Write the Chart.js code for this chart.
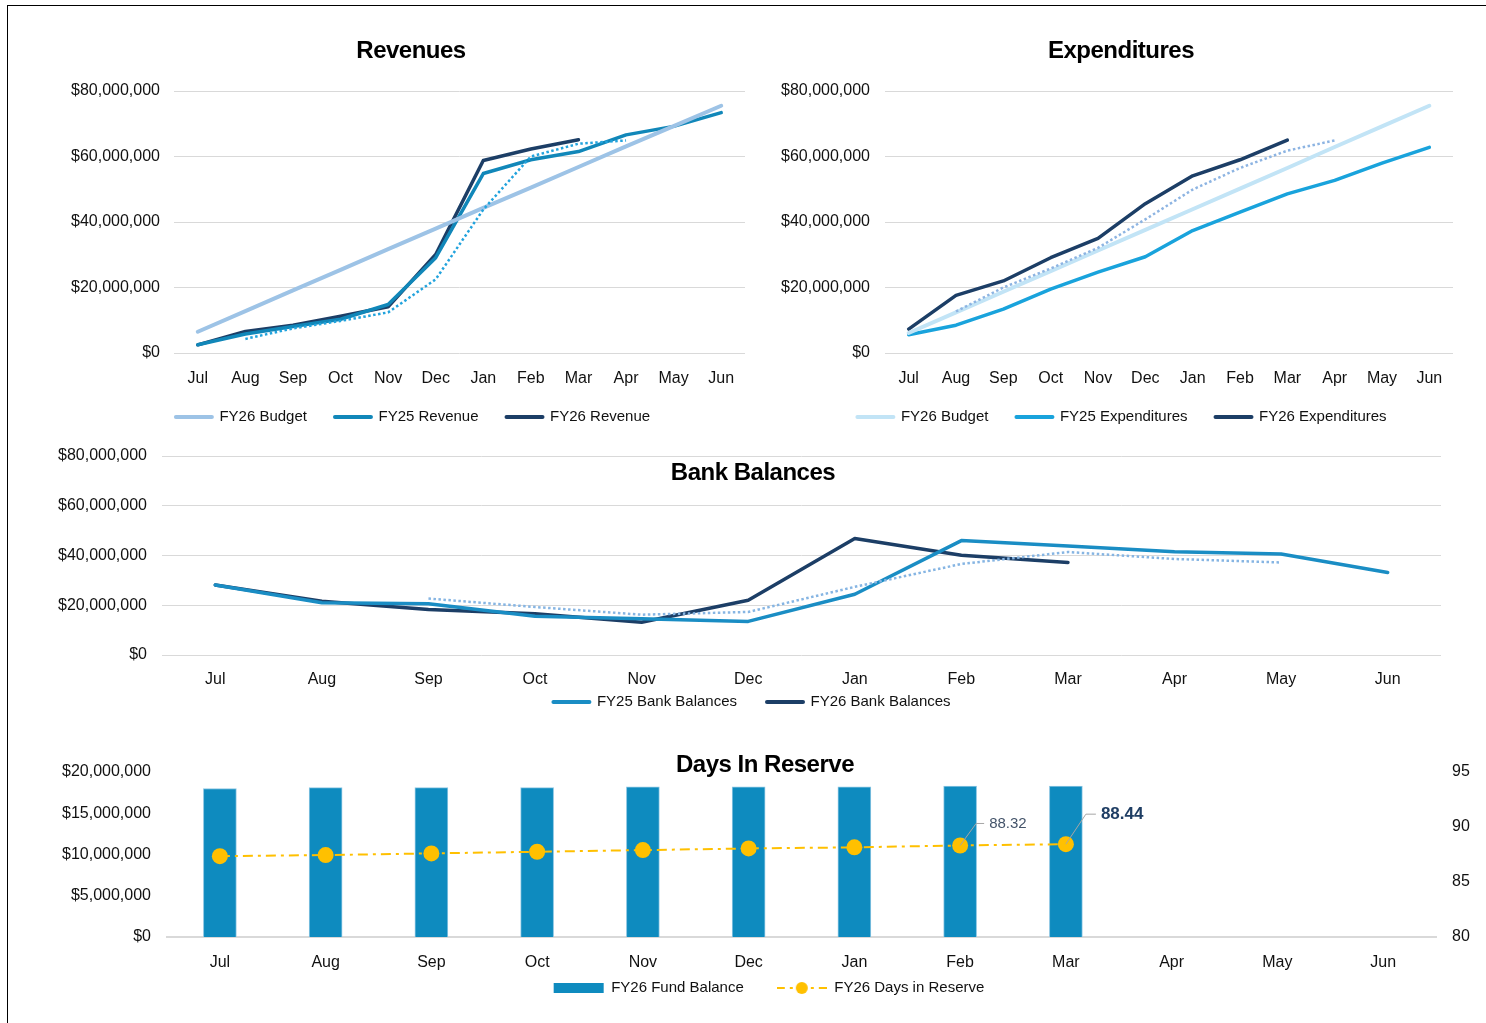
<!DOCTYPE html>
<html>
<head>
<meta charset="utf-8">
<script src="https://cdn.jsdelivr.net/npm/chart.js@4.4.1/dist/chart.umd.min.js"></script>
<style>
html, body { margin: 0; padding: 0; background: #fff; }
#page { position: relative; width: 1486px; height: 1023px; overflow: hidden; font-family: "Liberation Sans", Arial, sans-serif; }
.frame { position: absolute; left: 7px; top: 5px; right: -2px; bottom: -2px; border-left: 1px solid #000; border-top: 1px solid #000; }
canvas { position: absolute; left: 0; }
.title { position: absolute; transform: translate(-50%, -50%); font-weight: bold; font-size: 24px; letter-spacing: -0.5px; white-space: nowrap; color: #000; z-index: 5; }
</style>
</head>
<body>
<div id="page">
  <div class="frame"></div>
  <canvas id="rev" width="1486" height="390" style="top:60px"></canvas>
  <canvas id="exp" width="1486" height="390" style="top:60px"></canvas>
  <canvas id="bank" width="1486" height="330" style="top:430px"></canvas>
  <canvas id="days" width="1486" height="340" style="top:728px"></canvas>
  <div class="title" style="left:411px; top:50px">Revenues</div>
  <div class="title" style="left:1121px; top:50px">Expenditures</div>
  <div class="title" style="left:753px; top:472px">Bank Balances</div>
  <div class="title" style="left:765px; top:764px">Days In Reserve</div>
</div>
<script>
// --- data ---
const months = ['Jul', 'Aug', 'Sep', 'Oct', 'Nov', 'Dec', 'Jan', 'Feb', 'Mar', 'Apr', 'May', 'Jun'];

const revBudget = [6500000, 12800000, 19100000, 25400000, 31700000, 38000000, 44300000, 50500000, 56800000, 63100000, 69300000, 75500000];
const fy25Revenue = [2500000, 5800000, 8100000, 10300000, 14800000, 29100000, 54800000, 59000000, 61500000, 66600000, 69200000, 73400000];
const fy26Revenue = [2500000, 6600000, 8500000, 11200000, 14100000, 30100000, 58800000, 62300000, 65100000];
const revProjected = [null, 4300000, 7500000, 9800000, 12400000, 22500000, 43800000, 60000000, 63900000, 64900000];

const expBudget = [6100000, 12400000, 18700000, 25000000, 31300000, 37600000, 43900000, 50200000, 56500000, 62900000, 69200000, 75500000];
const fy25Expenditures = [5600000, 8500000, 13400000, 19500000, 24700000, 29400000, 37400000, 43000000, 48600000, 52700000, 58000000, 62800000];
const fy26Expenditures = [7300000, 17600000, 22000000, 29100000, 35000000, 45600000, 54100000, 59000000, 65000000];
const expProjected = [null, 12700000, 20000000, 25800000, 32100000, 40800000, 49900000, 56500000, 61800000, 64900000];

const fy25Bank = [28100000, 21000000, 20600000, 15600000, 14600000, 13500000, 24400000, 46000000, 43800000, 41500000, 40600000, 33200000];
const fy26Bank = [28100000, 21600000, 18300000, 16600000, 13200000, 22000000, 46800000, 40100000, 37200000];
const bankProjected = [null, null, 22700000, 19300000, 16200000, 17300000, 27400000, 36600000, 41400000, 38600000, 37200000];

const fundBalance = [18000000, 18100000, 18100000, 18100000, 18200000, 18200000, 18200000, 18300000, 18300000];
const daysInReserve = [87.35, 87.45, 87.6, 87.75, 87.9, 88.05, 88.15, 88.32, 88.44];

const moneyTicks = [0, 20000000, 40000000, 60000000, 80000000];

// --- setup ---
const W = 1486;
Chart.defaults.font.family = '"Liberation Sans", Arial, sans-serif';
Chart.defaults.color = '#111';
Chart.defaults.animation = false;

const money = v => '$' + Number(v).toLocaleString('en-US');

// moves the legend to a fixed centre after layout
const placeLegend = {
    id: 'placeLegend',
    afterLayout(chart, args, opts) {
        const lg = chart.legend;
        if (!lg || opts.cx == null) return;
        const w = lg.right - lg.left;
        const h = lg.bottom - lg.top;
        const pad = lg.options.labels.padding;
        const fs = Chart.helpers.toFont(lg.options.labels.font).size;
        lg.left = opts.cx - w / 2;
        lg.right = lg.left + w;
        lg.top = opts.cy - pad - fs / 2;
        lg.bottom = lg.top + h;
    }
};

// leader-line labels on chosen points
const pointNotes = {
    id: 'pointNotes',
    afterDatasetsDraw(chart, args, opts) {
        if (!opts.notes) return;
        const ctx = chart.ctx;
        const meta = chart.getDatasetMeta(opts.datasetIndex);
        const values = chart.data.datasets[opts.datasetIndex].data;
        opts.notes.forEach(n => {
            const pt = meta.data[n.index];
            const ex = pt.x + n.dx, ey = pt.y + n.dy;
            ctx.save();
            ctx.strokeStyle = '#A6A6A6';
            ctx.lineWidth = 1;
            ctx.beginPath();
            ctx.moveTo(pt.x, pt.y);
            ctx.lineTo(ex, ey);
            ctx.lineTo(ex + n.tail, ey);
            ctx.stroke();
            ctx.font = n.font;
            ctx.fillStyle = n.color;
            ctx.textAlign = 'left';
            ctx.textBaseline = 'middle';
            ctx.fillText(values[n.index].toFixed(2), ex + n.tail + 5, ey);
            ctx.restore();
        });
    }
};

function frame(c) {
    const legendH = c.legendFont + c.legendPad + 10;
    return {
        padding: {
            left: c.area.l - c.yW,
            right: W - c.area.r - (c.y2W || 0),
            top: c.area.t - c.top,
            bottom: c.height - (c.area.b - c.top) - c.xH - legendH
        }
    };
}

function lineSet(label, data, color, width) {
    return {
        label, data,
        borderColor: color, backgroundColor: color,
        borderWidth: width, pointRadius: 0, tension: 0,
        borderJoinStyle: 'round', borderCapStyle: 'round'
    };
}
function dottedSet(label, data, color) {
    const ds = lineSet(label, data, color, 2.5);
    ds.borderDash = [2.5, 2.5];
    ds.borderCapStyle = 'butt';
    ds.hideInLegend = true;
    return ds;
}

function lineLegend(chart) {
    return chart.data.datasets.map((ds, i) => ({
        text: ds.label, datasetIndex: i, hidden: false,
        fillStyle: ds.borderColor, strokeStyle: ds.borderColor,
        lineWidth: 4, lineCap: 'round', pointStyle: 'line', fontColor: '#111'
    })).filter(it => !chart.data.datasets[it.datasetIndex].hideInLegend);
}

function lineChart(id, c, datasets) {
    new Chart(document.getElementById(id), {
        type: 'line',
        data: { labels: months, datasets },
        plugins: [placeLegend],
        options: {
            responsive: false,
            layout: frame(c),
            scales: {
                x: {
                    offset: true,
                    grid: { display: false },
                    border: { display: false },
                    ticks: { font: { size: 16 }, padding: c.xPad, maxRotation: 0, autoSkip: false },
                    afterFit: s => { s.height = c.xH; }
                },
                y: {
                    min: 0, max: 80000000,
                    afterBuildTicks: s => { s.ticks = moneyTicks.map(v => ({ value: v })); },
                    grid: { color: '#D9D9D9', lineWidth: 1, drawTicks: false },
                    border: { display: false },
                    ticks: { font: { size: 16 }, padding: c.yPad, callback: money },
                    afterFit: s => { s.width = c.yW; }
                }
            },
            plugins: {
                legend: {
                    position: 'bottom',
                    labels: {
                        font: { size: c.legendFont }, padding: c.legendPad,
                        usePointStyle: true, pointStyleWidth: 36,
                        generateLabels: lineLegend
                    }
                },
                tooltip: { enabled: false },
                placeLegend: { cx: c.legendX, cy: c.legendY - c.top }
            }
        }
    });
}

lineChart('rev', {
    top: 60, height: 390, area: { l: 174, r: 745, t: 91, b: 353 },
    yW: 134, xH: 40, yPad: 14, xPad: 8, legendFont: 15, legendPad: 28,
    legendX: 413, legendY: 417
}, [
    dottedSet('FY26 Projected Revenue', revProjected, '#22A3DD'),
    lineSet('FY26 Budget', revBudget, '#9DC3E6', 4),
    lineSet('FY25 Revenue', fy25Revenue, '#1187B9', 3.5),
    lineSet('FY26 Revenue', fy26Revenue, '#1C3E66', 3.5)
]);

lineChart('exp', {
    top: 60, height: 390, area: { l: 885, r: 1453, t: 91, b: 353 },
    yW: 139, xH: 40, yPad: 15, xPad: 8, legendFont: 15, legendPad: 28,
    legendX: 1122, legendY: 417
}, [
    dottedSet('FY26 Projected Expenditures', expProjected, '#8DB4E2'),
    lineSet('FY26 Budget', expBudget, '#C2E4F6', 4),
    lineSet('FY25 Expenditures', fy25Expenditures, '#19A3DC', 3.5),
    lineSet('FY26 Expenditures', fy26Expenditures, '#1C3E66', 3.5)
]);

lineChart('bank', {
    top: 430, height: 330, area: { l: 162, r: 1441, t: 456, b: 655 },
    yW: 142, xH: 40, yPad: 15, xPad: 7, legendFont: 15, legendPad: 30,
    legendX: 752, legendY: 702
}, [
    dottedSet('FY26 Projected Bank Balances', bankProjected, '#86B5E3'),
    lineSet('FY25 Bank Balances', fy25Bank, '#1A8DC4', 3.5),
    lineSet('FY26 Bank Balances', fy26Bank, '#1C3E66', 3.5)
]);

// legend swatch for the days line: dash, dot, marker, dot, dash
function daysSwatch() {
    const cv = document.createElement('canvas');
    cv.width = 50; cv.height = 16;
    const g = cv.getContext('2d');
    g.strokeStyle = '#FFC000'; g.fillStyle = '#FFC000'; g.lineWidth = 2;
    g.beginPath();
    g.moveTo(0, 8); g.lineTo(8, 8);
    g.moveTo(13, 8); g.lineTo(16, 8);
    g.moveTo(34, 8); g.lineTo(37, 8);
    g.moveTo(42, 8); g.lineTo(50, 8);
    g.stroke();
    g.beginPath(); g.arc(25, 8, 6, 0, Math.PI * 2); g.fill();
    return cv;
}

const dc = {
    top: 728, height: 340, area: { l: 167, r: 1436, t: 772, b: 937 },
    yW: 147, y2W: 50, xH: 40, legendFont: 15, legendPad: 33
};
const swatch = daysSwatch();

new Chart(document.getElementById('days'), {
    type: 'bar',
    data: {
        labels: months,
        datasets: [
            {
                type: 'bar', label: 'FY26 Fund Balance', data: fundBalance, yAxisID: 'y',
                backgroundColor: '#0E8BBF', borderColor: '#8CC6E3', borderWidth: 1,
                borderSkipped: 'bottom', barThickness: 33, order: 2
            },
            {
                type: 'line', label: 'FY26 Days in Reserve', data: daysInReserve, yAxisID: 'y2',
                borderColor: '#FFC000', backgroundColor: '#FFC000', borderWidth: 2,
                borderDash: [10, 5, 3, 5], pointRadius: 8, pointBorderWidth: 0,
                pointBackgroundColor: '#FFC000', tension: 0, order: 1
            }
        ]
    },
    plugins: [placeLegend, pointNotes],
    options: {
        responsive: false,
        layout: frame(dc),
        scales: {
            x: {
                offset: true,
                grid: { display: false },
                border: { display: true, color: '#D9D9D9', width: 2 },
                ticks: { font: { size: 16 }, padding: 8, maxRotation: 0, autoSkip: false },
                afterFit: s => { s.height = dc.xH; }
            },
            y: {
                position: 'left', min: 0, max: 20000000,
                ticks: { stepSize: 5000000, font: { size: 16 }, padding: 16, callback: money },
                grid: { display: false, drawTicks: false },
                border: { display: false },
                afterFit: s => { s.width = dc.yW; }
            },
            y2: {
                position: 'right', min: 80, max: 95,
                ticks: { stepSize: 5, font: { size: 16 }, padding: 16 },
                grid: { display: false, drawTicks: false },
                border: { display: false },
                afterFit: s => { s.width = dc.y2W; }
            }
        },
        plugins: {
            legend: {
                position: 'bottom',
                labels: {
                    font: { size: dc.legendFont }, padding: dc.legendPad,
                    usePointStyle: true, pointStyleWidth: 50, boxHeight: 10,
                    generateLabels: chart => [
                        { text: 'FY26 Fund Balance', datasetIndex: 0, fillStyle: '#0E8BBF', strokeStyle: '#0E8BBF', lineWidth: 0, pointStyle: 'rect', fontColor: '#111' },
                        { text: 'FY26 Days in Reserve', datasetIndex: 1, fillStyle: '#FFC000', strokeStyle: '#FFC000', lineWidth: 0, pointStyle: swatch, fontColor: '#111' }
                    ]
                }
            },
            tooltip: { enabled: false },
            placeLegend: { cx: 769, cy: 988 - dc.top },
            pointNotes: {
                datasetIndex: 1,
                notes: [
                    { index: 7, dx: 16, dy: -22, tail: 8, font: '15px "Liberation Sans", Arial, sans-serif', color: '#44546A' },
                    { index: 8, dx: 20, dy: -30, tail: 10, font: 'bold 17px "Liberation Sans", Arial, sans-serif', color: '#1F3E64' }
                ]
            }
        }
    }
});
</script>
</body>
</html>
